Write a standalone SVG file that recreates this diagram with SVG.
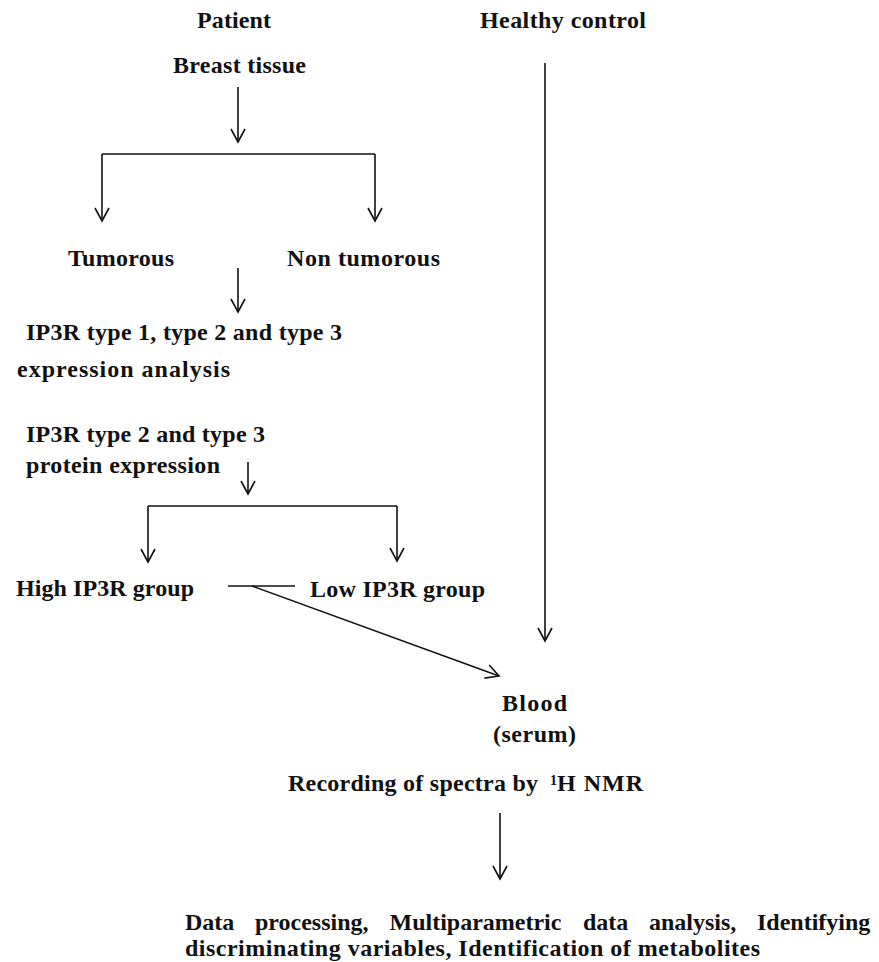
<svg xmlns="http://www.w3.org/2000/svg" width="879" height="962" viewBox="0 0 879 962">
<defs>
<style>
text{font-family:"Liberation Serif","Times New Roman",serif;font-size:24px;font-weight:bold;fill:#111}
.ln{fill:none;stroke:#111;stroke-width:1.6}
.ar{marker-end:url(#ah)}
</style>
<marker id="ah" markerUnits="userSpaceOnUse" markerWidth="20" markerHeight="20" refX="0" refY="0" orient="auto" overflow="visible">
<path d="M-13,-7 L0,0 L-13,7" fill="none" stroke="#111" stroke-width="1.6"/>
</marker>
</defs>
<rect width="879" height="962" fill="#fff"/>
<g id="patient"><text x="197" y="28" textLength="74">Patient</text></g>
<g id="healthy"><text x="480" y="28" textLength="166">Healthy control</text></g>
<g id="breast"><text x="173" y="73" textLength="133">Breast tissue</text></g>
<g id="tumorous"><text x="68" y="266" textLength="106">Tumorous</text></g>
<g id="nontumorous"><text x="287" y="266" textLength="153">Non tumorous</text></g>
<g id="ip3r-all">
<text x="26" y="340" textLength="316">IP3R type 1, type 2 and type 3</text>
<text x="17" y="377" textLength="213">expression analysis</text>
</g>
<g id="ip3r-23">
<text x="26" y="442" textLength="239">IP3R type 2 and type 3</text>
<text x="26" y="473" textLength="194">protein expression</text>
</g>
<g id="high"><text x="16" y="596" textLength="178">High IP3R group</text></g>
<g id="low"><text x="310" y="597" textLength="175">Low IP3R group</text></g>
<g id="blood">
<text x="502" y="711" textLength="65">Blood</text>
<text x="493" y="742" textLength="83">(serum)</text>
</g>
<g id="nmr">
<text x="288" y="791" textLength="250">Recording of spectra by</text>
<text x="550" y="785" style="font-size:14px">1</text>
<text x="557" y="791" textLength="86">H NMR</text>
</g>
<g id="analysis">
<text y="930"><tspan x="185">Data</tspan><tspan x="255">processing,</tspan><tspan x="389.5">Multiparametric</tspan><tspan x="583">data</tspan><tspan x="649">analysis,</tspan><tspan x="757">Identifying</tspan></text>
<text x="185" y="956" textLength="575">discriminating variables, Identification of metabolites</text>
</g>
<g id="connectors">
<path class="ln ar" d="M238,87 V142"/>
<path class="ln" d="M102,154 H375"/>
<path class="ln ar" d="M102,154 V221"/>
<path class="ln ar" d="M375,154 V221"/>
<path class="ln ar" d="M238,268 V312"/>
<path class="ln ar" d="M248,462 V494"/>
<path class="ln" d="M148,506 H397"/>
<path class="ln ar" d="M148,506 V562"/>
<path class="ln ar" d="M397,506 V561"/>
<path class="ln" d="M228,586 H295"/>
<path class="ln ar" d="M252,586 L499,676"/>
<path class="ln ar" d="M545,63 V641"/>
<path class="ln ar" d="M500,813 V879"/>
</g>
</svg>
